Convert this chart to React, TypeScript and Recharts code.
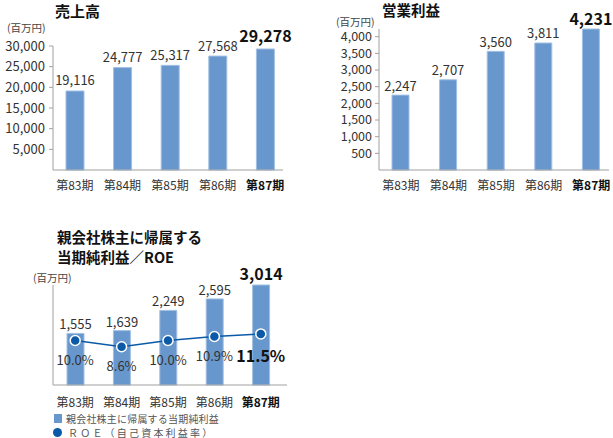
import React from 'react';
import {
  BarChart,
  Bar,
  ComposedChart,
  Line,
  XAxis,
  YAxis,
  Legend,
} from 'recharts';

const categories = ['第83期', '第84期', '第85期', '第86期', '第87期'];
const sales = [19116, 24777, 25317, 27568, 29278];
const operatingProfit = [2247, 2707, 3560, 3811, 4231];
const netIncome = [1555, 1639, 2249, 2595, 3014];
const roe = [10.0, 8.6, 10.0, 10.9, 11.5];
const salesTicks = [5000, 10000, 15000, 20000, 25000, 30000];
const profitTicks = [500, 1000, 1500, 2000, 2500, 3000, 3500, 4000];

const salesData = categories.map((c, i) => ({ name: c, value: sales[i] }));
const profitData = categories.map((c, i) => ({ name: c, value: operatingProfit[i] }));
const netData = categories.map((c, i) => ({ name: c, net: netIncome[i], roe: roe[i] }));

const FONT = "'Noto Sans CJK JP', 'Noto Sans', sans-serif";
const BAR = '#6797cc';
const BAR_EDGE = '#a3c0e3';
const DOT = '#0b5aa7';
const AXIS = '#a0a0a0';
const TXT = '#333';
const last = categories.length - 1;

const fmt = (v: number) => Number(v).toLocaleString('en-US');

const makeCatTick = (offset: number) => (props: any) => {
  const { x, y, payload } = props;
  const isLast = payload.value === categories[last];
  return (
    <text
      x={x}
      y={y + offset}
      textAnchor="middle"
      dominantBaseline="central"
      fontSize={12}
      fontWeight={isLast ? 700 : 400}
      fill={isLast ? '#111' : TXT}
    >
      {payload.value}
    </text>
  );
};

const makeBarLabel = (gap: number, boldGap: number, boldSize: number) => (props: any) => {
  const { x, y, width, value, index } = props;
  const isLast = index === last;
  return (
    <text
      x={Number(x) + Number(width) / 2}
      y={Number(y) - (isLast ? boldGap : gap)}
      textAnchor="middle"
      dominantBaseline="central"
      fontSize={isLast ? boldSize : 13}
      fontWeight={isLast ? 700 : 400}
      fill={isLast ? '#111' : TXT}
    >
      {fmt(value)}
    </text>
  );
};

const roeLabel = (props: any) => {
  const { x, y, value, index } = props;
  const isLast = index === last;
  return (
    <text
      x={Number(x)}
      y={Number(y) + (isLast ? 21 : 19)}
      textAnchor="middle"
      dominantBaseline="central"
      fontSize={isLast ? 16 : 13}
      fontWeight={isLast ? 700 : 400}
      fill={isLast ? '#111' : TXT}
    >
      {Number(value).toFixed(1) + '%'}
    </text>
  );
};

const legendContent = (props: any) => {
  const { payload } = props;
  return (
    <div style={{ fontFamily: FONT, color: '#555', fontSize: 10 }}>
      {(payload || []).map((p: any, i: number) => {
        const isCircle = p.type === 'circle';
        return (
          <div key={i} style={{ display: 'flex', alignItems: 'center', height: 14, marginBottom: 0 }}>
            {isCircle ? (
              <span
                style={{
                  display: 'inline-block',
                  width: 9,
                  height: 9,
                  borderRadius: '50%',
                  background: DOT,
                  marginRight: 6,
                  marginLeft: -1,
                }}
              />
            ) : (
              <span
                style={{
                  display: 'inline-block',
                  width: 8,
                  height: 9,
                  background: BAR,
                  marginRight: 4,
                }}
              />
            )}
            <span style={{ whiteSpace: 'nowrap', letterSpacing: isCircle ? 2.2 : 0.2 }}>{p.value}</span>
          </div>
        );
      })}
    </div>
  );
};

const titleStyle: React.CSSProperties = {
  position: 'absolute',
  fontFamily: FONT,
  fontWeight: 700,
  color: '#111',
  whiteSpace: 'nowrap',
  lineHeight: 1,
};

const unitStyle: React.CSSProperties = {
  position: 'absolute',
  fontFamily: FONT,
  fontSize: 10.5,
  color: '#444',
  whiteSpace: 'nowrap',
  lineHeight: 1,
};

export default function App() {
  return (
    <div
      style={{
        position: 'absolute',
        left: 0,
        top: 0,
        width: 613,
        height: 438,
        background: '#fff',
        fontFamily: FONT,
        overflow: 'hidden',
      }}
    >
      <div style={{ ...titleStyle, left: 55, top: 3, fontSize: 15 }}>売上高</div>
      <div style={{ ...unitStyle, left: 7, top: 23 }}>(百万円)</div>
      <div style={{ ...titleStyle, left: 382, top: 3, fontSize: 14.5 }}>営業利益</div>
      <div style={{ ...unitStyle, left: 336, top: 17 }}>(百万円)</div>
      <div style={{ ...titleStyle, left: 57, top: 230, fontSize: 14.5 }}>親会社株主に帰属する</div>
      <div style={{ ...titleStyle, left: 57, top: 250, fontSize: 14.5 }}>当期純利益／ROE</div>
      <div style={{ ...unitStyle, left: 33, top: 273 }}>(百万円)</div>

      <div style={{ position: 'absolute', left: 0, top: 0 }}>
        <BarChart width={300} height={200} data={salesData} margin={{ top: 46, right: 17, bottom: 0, left: 0 }}>
          <XAxis
            dataKey="name"
            height={30}
            tickSize={0}
            tickMargin={0}
            tickLine={false}
            axisLine={{ stroke: AXIS }}
            padding={{ left: -2, right: -6 }}
            tick={makeCatTick(14)}
            interval={0}
          />
          <YAxis
            width={53}
            domain={[0, 30000]}
            ticks={salesTicks}
            interval={0}
            tickFormatter={fmt}
            tickSize={4}
            tickMargin={4}
            tickLine={{ stroke: AXIS }}
            axisLine={{ stroke: AXIS }}
            tick={{ fontSize: 13, fill: TXT }}
          />
          <Bar
            dataKey="value"
            fill={BAR}
            stroke={BAR_EDGE}
            strokeWidth={1}
            barSize={18}
            isAnimationActive={false}
            label={makeBarLabel(11, 14, 16)}
          />
        </BarChart>
      </div>

      <div style={{ position: 'absolute', left: 300, top: 0 }}>
        <BarChart width={313} height={200} data={profitData} margin={{ top: 29, right: 4, bottom: 0, left: 0 }}>
          <XAxis
            dataKey="name"
            height={30}
            tickSize={0}
            tickMargin={0}
            tickLine={false}
            axisLine={{ stroke: AXIS }}
            padding={{ left: -2, right: -6 }}
            tick={makeCatTick(14.5)}
            interval={0}
          />
          <YAxis
            width={79}
            domain={[0, 'dataMax']}
            ticks={profitTicks}
            interval={0}
            tickFormatter={fmt}
            tickSize={4}
            tickMargin={3}
            tickLine={{ stroke: AXIS }}
            axisLine={{ stroke: AXIS }}
            tick={{ fontSize: 12.5, fill: TXT }}
          />
          <Bar
            dataKey="value"
            fill={BAR}
            stroke={BAR_EDGE}
            strokeWidth={1}
            barSize={17}
            isAnimationActive={false}
            label={makeBarLabel(10, 11, 16)}
          />
        </BarChart>
      </div>

      <div style={{ position: 'absolute', left: 0, top: 240 }}>
        <ComposedChart width={300} height={198} data={netData} margin={{ top: 45, right: 13, bottom: 23, left: 0 }}>
          <XAxis
            dataKey="name"
            height={30}
            tickSize={0}
            tickMargin={0}
            tickLine={false}
            axisLine={{ stroke: AXIS }}
            padding={{ left: -1, right: 3 }}
            tick={makeCatTick(16.5)}
            interval={0}
          />
          <YAxis
            yAxisId="left"
            width={53}
            domain={[0, 'dataMax']}
            tick={false}
            tickLine={false}
            axisLine={{ stroke: AXIS }}
          />
          <YAxis yAxisId="right" orientation="right" hide domain={[0, 22.5]} />
          <Legend
            layout="vertical"
            align="center"
            verticalAlign="middle"
            content={legendContent}
            wrapperStyle={{ position: 'absolute', left: 54, top: 171, width: 240, bottom: 'auto' }}
          />
          <Bar
            yAxisId="left"
            dataKey="net"
            name="親会社株主に帰属する当期純利益"
            legendType="square"
            fill={BAR}
            stroke={BAR_EDGE}
            strokeWidth={1}
            barSize={17}
            isAnimationActive={false}
            label={makeBarLabel(9.5, 12, 16)}
          />
          <Line
            yAxisId="right"
            dataKey="roe"
            name="ＲＯＥ（自己資本利益率）"
            legendType="circle"
            stroke={DOT}
            strokeWidth={1.5}
            dot={{ r: 5, fill: DOT, stroke: '#fff', strokeWidth: 1.5 }}
            isAnimationActive={false}
            label={roeLabel}
          />
        </ComposedChart>
      </div>
    </div>
  );
}
